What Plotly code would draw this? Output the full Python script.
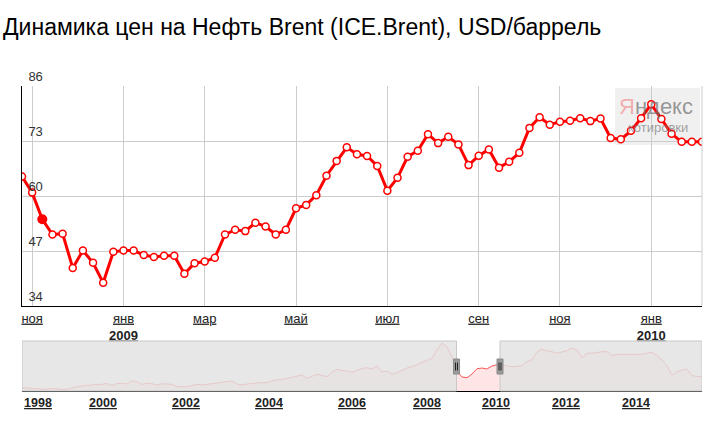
import pandas as pd
import plotly.graph_objects as go

# weekly Brent closes, USD/bbl, first week starting 2008-10-27
week_start = "2008-10-27"
brent_weekly = [
    64.6, 60.8, 54.5, 50.9, 51.1, 43.0, 47.1, 44.2, 39.5, 46.8,
    47.1, 47.1, 46.05, 45.6, 45.9, 45.9, 41.6, 44.1, 44.5, 45.4,
    50.9, 52.0, 51.7, 53.7, 52.8, 50.9, 52.0, 57.1, 57.9, 60.2,
    64.8, 68.3, 71.5, 69.85, 69.45, 67.1, 61.25, 64.3, 69.3, 70.7,
    74.6, 72.5, 74.0, 72.2, 67.3, 69.5, 71.0, 66.7, 68.1, 70.2,
    76.1, 78.6, 76.85, 77.55, 77.8, 78.4, 77.7, 78.3, 73.7, 73.4,
    75.4, 78.4, 81.7, 78.2, 74.7, 72.8, 72.8, 72.8,
]
marked_week = 2  # highlighted point

month_ticks = ["2008-11-03", "2009-01-05", "2009-03-02", "2009-05-04",
               "2009-07-06", "2009-09-07", "2009-11-02", "2010-01-04"]
month_labels = ["ноя", "янв", "мар", "май", "июл", "сен", "ноя", "янв"]
month_years = ["", "2009", "", "", "", "", "", "2010"]
price_ticks = [34, 47, 60, 73, 86]

# overview (navigator) series, 1998 - 2015
nav_values = [
    15.1, 14.2, 13.4, 12.8, 11.4, 10.6, 13.4, 11.4, 10.6, 10.6,
    15.1, 18.5, 19.9, 21.9, 22.7, 24.2, 24.7, 27.0, 21.3, 27.0,
    27.6, 25.6, 34.9, 32.1, 24.2, 27.6, 26.4, 22.7, 26.4, 25.6,
    24.7, 17.9, 17.9, 17.9, 21.3, 24.7, 22.7, 24.7, 24.7, 27.0,
    29.8, 32.1, 34.1, 25.6, 22.7, 25.6, 27.6, 28.4, 29.3, 29.3,
    34.1, 37.8, 38.3, 41.7, 44.6, 47.4, 51.1, 41.7, 48.2, 53.1,
    49.7, 46.3, 59.6, 67.2, 63.8, 62.4, 58.7, 65.2, 69.5, 71.8,
    68.1, 76.6, 59.6, 62.4, 53.1, 58.2, 65.2, 70.9, 74.6, 80.8,
    85.9, 93.6, 98.4, 121.9, 141.7, 131.0, 102.9, 62.0, 45.4, 43.4,
    53.9, 68.9, 70.9, 68.0, 76.6, 80.3, 79.4, 77.4, 74.6, 76.6,
    77.4, 88.8, 94.4, 116.2, 124.7, 119.1, 117.1, 112.6, 116.2, 119.9,
    127.6, 121.9, 99.2, 113.4, 112.6, 115.4, 117.1, 117.1, 105.8, 109.7,
    110.6, 109.7, 109.7, 109.7, 109.7, 113.4, 115.4, 105.8, 93.6, 77.4,
    51.1, 60.4, 65.2, 67.2, 49.1, 47.4, 46.3,
]
nav_years = ["1998", "2000", "2002", "2004", "2006", "2008", "2010", "2012", "2014"]
nav_year_pos = [3.2, 16.2, 32.8, 49.4, 66.0, 81.0, 94.8, 108.8, 122.8]
nav_window = [86.9, 95.6]

W, H = 718, 425
left, right = 22, 702
main_top, main_bottom = 86, 306
nav_top, nav_bottom = 341, 391


def ydom(top, bottom):
    return [1 - bottom / H, 1 - top / H]


FONT = "Liberation Sans, Arial, sans-serif"
dates = pd.date_range(week_start, periods=len(brent_weekly), freq="7D")

fig = go.Figure()

fig.add_trace(go.Scatter(
    x=dates, y=brent_weekly, mode="lines+markers",
    line=dict(color="#ff0000", width=3),
    marker=dict(size=7, color="white", line=dict(color="#ff0000", width=1.5)),
    hoverinfo="skip", showlegend=False,
))
fig.add_trace(go.Scatter(
    x=[dates[marked_week]], y=[brent_weekly[marked_week]], mode="markers",
    marker=dict(size=10, color="#ff0000"),
    hoverinfo="skip", showlegend=False,
))
fig.add_trace(go.Scatter(
    x=list(range(len(nav_values))), y=nav_values, mode="lines",
    line=dict(color="rgba(255,70,70,0.9)", width=1),
    fill="tozeroy", fillcolor="rgba(255,0,0,0.1)",
    xaxis="x2", yaxis="y2", hoverinfo="skip", showlegend=False,
))

tick_text = []
for m, y in zip(month_labels, month_years):
    t = "<u>" + m + "</u>"
    if y:
        t += "<br><b><u>" + y + "</u></b>"
    tick_text.append(t)

shapes = [
    # right border of the main plot
    dict(type="line", xref="x domain", yref="y domain", x0=1, x1=1, y0=0, y1=1,
         line=dict(color="#cccccc", width=1)),
    # watermark box
    dict(type="rect", xref="paper", yref="paper",
         x0=615 / W, x1=700 / W, y0=1 - 145 / H, y1=1 - 88 / H,
         fillcolor="rgba(236,236,236,0.8)", line=dict(width=0), layer="between"),
]
# shade outside the selected window
for x0, x1 in [(0, nav_window[0]), (nav_window[1], len(nav_values) - 1)]:
    shapes.append(dict(type="rect", xref="x2", yref="y2 domain",
                       x0=x0, x1=x1, y0=0, y1=1,
                       fillcolor="rgba(226,226,226,0.82)",
                       line=dict(color="#c8c8c8", width=1), layer="above"))
# window handles
for xa in nav_window:
    shapes.append(dict(type="rect", xref="x2", yref="y2 domain", xsizemode="pixel",
                       xanchor=xa, x0=-3, x1=3, y0=0.34, y1=0.64,
                       fillcolor="#9c9c9c", line=dict(color="#8a8a8a", width=1),
                       layer="above"))
    for dx in (-1, 1):
        shapes.append(dict(type="line", xref="x2", yref="y2 domain", xsizemode="pixel",
                           xanchor=xa, x0=dx, x1=dx, y0=0.41, y1=0.57,
                           line=dict(color="#222222", width=1), layer="above"))

fig.update_layout(
    width=W, height=H,
    margin=dict(l=0, r=0, t=0, b=0, autoexpand=False),
    paper_bgcolor="white", plot_bgcolor="white",
    font=dict(family=FONT, color="#222222"),
    title=dict(text="Динамика цен на Нефть Brent (ICE.Brent), USD/баррель",
               x=3 / W, xanchor="left", xref="container",
               y=1 - 27 / H, yanchor="middle", yref="container",
               font=dict(size=23, color="#000000", family=FONT)),
    xaxis=dict(
        domain=[left / W, right / W], anchor="y", type="date",
        range=[dates[0], dates[-1]], automargin=False,
        tickmode="array", tickvals=month_ticks, ticktext=tick_text,
        showgrid=True, gridcolor="#cccccc", gridwidth=1,
        showline=True, linecolor="#000000", linewidth=1,
        ticks="", tickfont=dict(size=13, color="#222222"),
        ticklabeloverflow="allow",
        fixedrange=True,
    ),
    yaxis=dict(
        domain=ydom(main_top, main_bottom), anchor="x",
        range=[34, 86], tickmode="array", tickvals=price_ticks,
        automargin=False,
        showgrid=True, gridcolor="#cccccc", gridwidth=1, zeroline=False,
        showline=True, linecolor="#000000", linewidth=1,
        ticks="", ticklabelposition="inside", ticklabelshift=-10,
        ticklabelstandoff=6, ticklabeloverflow="allow",
        tickfont=dict(size=13, color="#333333"),
        fixedrange=True,
    ),
    xaxis2=dict(
        domain=[left / W, right / W], anchor="y2",
        range=[0, len(nav_values) - 1], automargin=False,
        tickmode="array", tickvals=nav_year_pos,
        ticktext=["<b><u>" + y + "</u></b>" for y in nav_years],
        showgrid=False, zeroline=False,
        showline=True, linecolor="#000000", linewidth=1,
        ticks="", tickfont=dict(size=12.5, color="#222222"),
        fixedrange=True,
    ),
    yaxis2=dict(
        domain=ydom(nav_top, nav_bottom), anchor="x2", automargin=False,
        range=[5.75, 147.4], visible=False, fixedrange=True,
    ),
    shapes=shapes,
    annotations=[
        dict(text="<span style='color:rgba(240,100,100,0.7)'>Я</span>ндекс",
             xref="paper", yref="paper", x=656 / W, y=1 - 107 / H,
             xanchor="center", yanchor="middle", showarrow=False,
             font=dict(size=22, color="rgba(110,110,110,0.7)",
                       family="Liberation Sans Narrow, " + FONT)),
        dict(text="котировки", xref="paper", yref="paper",
             x=658 / W, y=1 - 128 / H, xanchor="center", yanchor="middle",
             showarrow=False,
             font=dict(size=13, color="rgba(120,120,120,0.7)", family=FONT)),
    ],
)

# page body has a default margin; drop it so the figure sits at the window corner
fig.write_html("out.html", config={"displayModeBar": False},
               post_script="document.body.style.margin='0';"
                           "document.body.style.overflow='hidden';")
